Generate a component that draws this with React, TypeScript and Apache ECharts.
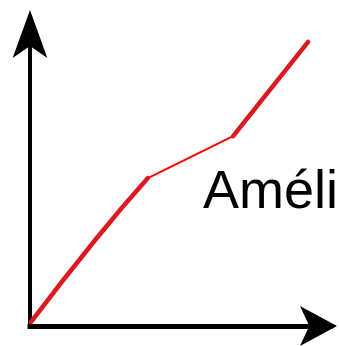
import React, { useEffect, useRef } from "react";
import * as echarts from "echarts";

// Abstract units: x and y in [0, 10]
const curveLow: [number, number][] = [
  [0.03, 0.13],
  [2.2, 2.9],
  [3.93, 4.93],
];
const plateau: [number, number][] = [
  [3.93, 4.93],
  [6.77, 6.33],
];
const curveHigh: [number, number][] = [
  [6.77, 6.33],
  [9.27, 9.47],
];
const labelText = "Améli";

export default function App() {
  const ref = useRef<HTMLDivElement>(null);
  useEffect(() => {
    if (!ref.current) return;
    const chart = echarts.init(ref.current, undefined, { renderer: "svg" });
    const thick = { color: "#dc1820", width: 4.5, cap: "round" as const };
    chart.setOption({
      animation: false,
      grid: { left: 30, top: 26, width: 300, height: 300 },
      xAxis: {
        type: "value",
        min: 0,
        max: 10,
        axisLine: {
          show: true,
          symbol: ["none", "arrow"],
          symbolSize: [30, 37],
          symbolOffset: [0, 7],
          lineStyle: { color: "#000", width: 5, cap: "square" },
        },
        axisTick: { show: false },
        axisLabel: { show: false },
        splitLine: { show: false },
      },
      yAxis: {
        type: "value",
        min: 0,
        max: 10,
        axisLine: {
          show: true,
          symbol: ["none", "arrow"],
          symbolSize: [26, 48],
          symbolOffset: [0, 16],
          lineStyle: { color: "#000", width: 4, cap: "square" },
        },
        axisTick: { show: false },
        axisLabel: { show: false },
        splitLine: { show: false },
      },
      graphic: [
        {
          type: "text",
          x: 203,
          y: 189,
          style: {
            text: labelText,
            font: '54px "Liberation Sans", Arial, sans-serif',
            fill: "#000",
            textVerticalAlign: "middle",
            verticalAlign: "middle",
          },
        },
      ],
      series: [
        {
          type: "line",
          data: curveLow,
          smooth: 0.5,
          showSymbol: false,
          lineStyle: thick,
        },
        {
          type: "line",
          data: plateau,
          showSymbol: false,
          lineStyle: { color: "#ff0000", width: 2 },
        },
        {
          type: "line",
          data: curveHigh,
          showSymbol: false,
          lineStyle: thick,
        },
      ],
    });
    return () => chart.dispose();
  }, []);
  return (
    <div
      ref={ref}
      style={{ position: "absolute", left: 0, top: 0, width: 339, height: 346, background: "#fff" }}
    />
  );
}
